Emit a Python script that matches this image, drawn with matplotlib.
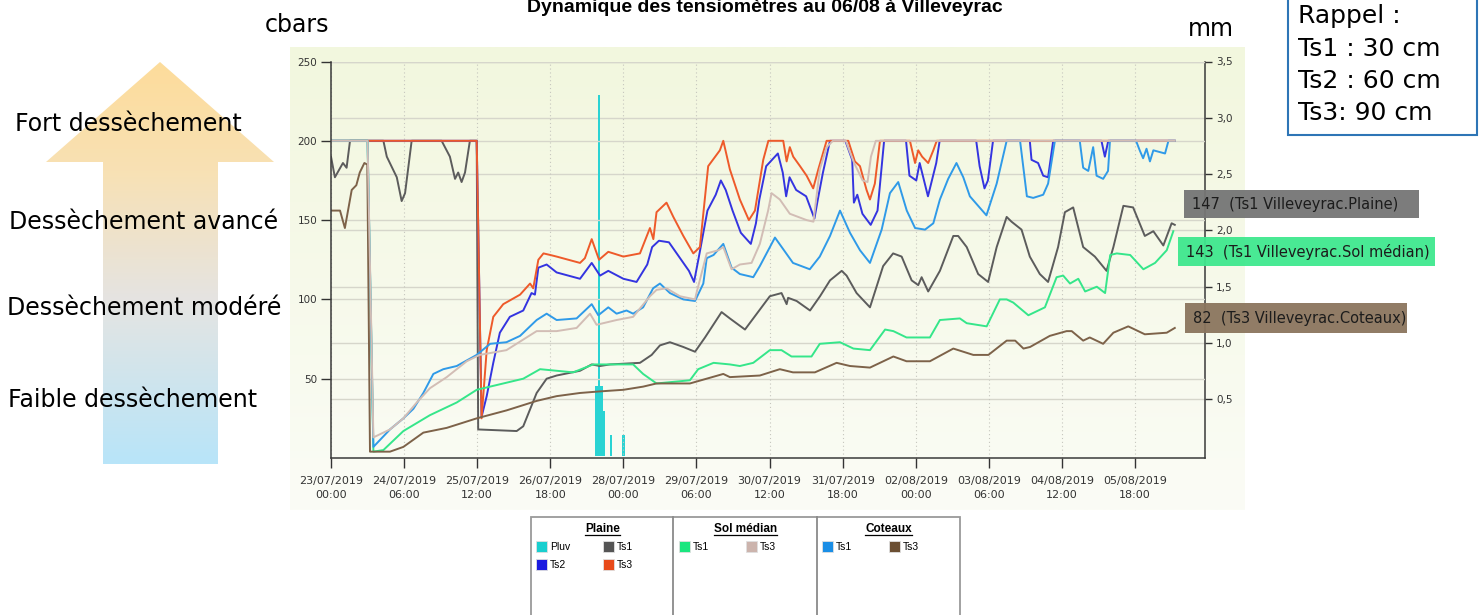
import numpy as np
import pandas as pd
import matplotlib
matplotlib.use("Agg")
import matplotlib.pyplot as plt
from matplotlib.patches import Rectangle, Polygon

W, H = 1484, 615
START = pd.Timestamp("2019-07-23 00:00")
X_END_HOURS = 358.7

# ---------------- data : (hours since 23/07/2019 00:00, cbars) ----------------
plaine_ts1 = [(0, 190), (1.6, 177), (4.9, 186), (6.4, 183), (7.8, 200), (21.5, 200), (22.9, 190),
              (27.0, 177), (29.0, 162), (30.4, 167), (33.1, 200), (45.4, 200), (48.8, 190),
              (50.9, 176), (52.2, 180), (53.6, 174), (55.0, 180), (57.0, 200), (59.8, 200),
              (60.4, 18), (76.2, 17), (78.9, 20), (84.4, 41), (88.5, 50), (92.6, 52), (102.2, 55),
              (107.0, 59), (110.4, 58), (114.5, 59), (126.8, 60), (131.6, 65), (135.0, 71),
              (139.1, 73), (144.6, 70), (149.4, 67), (153.5, 76), (160.3, 92), (163.7, 88),
              (169.9, 81), (180.1, 102), (184.9, 104), (187.0, 97), (187.6, 101), (191.1, 99),
              (196.6, 93), (200.7, 102), (204.8, 112), (209.6, 118), (211.6, 115), (215.7, 104),
              (221.2, 95), (226.6, 121), (230.7, 129), (234.2, 127), (238.3, 112), (241.0, 109),
              (242.4, 114), (245.1, 105), (249.9, 118), (255.4, 140), (257.4, 140), (260.9, 133),
              (265.6, 116), (269.7, 111), (273.2, 133), (277.3, 152), (279.3, 149), (283.4, 144),
              (286.8, 127), (290.9, 116), (294.3, 111), (298.4, 133), (301.2, 155), (304.6, 158),
              (308.7, 133), (313.5, 127), (318.3, 118), (321.1, 133), (325.2, 159), (329.2, 158),
              (334.0, 140), (337.5, 143), (341.6, 134), (345.0, 148), (346.3, 147)]

plaine_ts2 = [(0, 200), (59.8, 200), (61.8, 26), (63.9, 39), (66.6, 60), (69.3, 79), (73.4, 89),
              (78.9, 93), (82.3, 104), (83.7, 103), (85.1, 120), (88.5, 122), (92.6, 117),
              (102.2, 113), (107.0, 123), (110.4, 115), (113.8, 118), (120.0, 113), (125.4, 111),
              (129.8, 122), (131.8, 133), (134.6, 137), (138.7, 136), (142.8, 127), (146.9, 118),
              (149.0, 111), (151.0, 127), (154.5, 156), (157.9, 166), (160.0, 175), (162.0, 169),
              (164.8, 156), (168.2, 142), (172.3, 135), (174.4, 148), (175.8, 163), (178.6, 184),
              (183.4, 192), (185.4, 180), (186.8, 165), (188.2, 177), (190.9, 169), (195.0, 165),
              (198.4, 151), (199.8, 163), (201.9, 180), (204.8, 200), (211.1, 200), (213.9, 188),
              (214.6, 161), (216.0, 166), (218.1, 154), (221.5, 147), (224.3, 156), (227.0, 200),
              (236.0, 200), (237.4, 178), (240.2, 175), (241.6, 186), (245.0, 165), (248.4, 186),
              (249.8, 200), (264.8, 200), (266.2, 184), (268.2, 170), (269.6, 175), (271.7, 200),
              (286.8, 200), (287.5, 188), (290.2, 186), (292.3, 178), (294.3, 177), (296.4, 200),
              (316.2, 200), (317.6, 190), (319.0, 200), (346.3, 200)]

plaine_ts3 = [(0, 200), (59.8, 200), (61.8, 25), (63.9, 68), (66.6, 89), (70.7, 97), (77.6, 103),
              (81.7, 110), (83.0, 107), (85.1, 125), (87.2, 129), (90.0, 128), (92.6, 127),
              (102.2, 123), (104.2, 126), (107.0, 138), (110.0, 125), (113.8, 130), (120.0, 127),
              (126.8, 129), (130.9, 145), (132.3, 138), (133.6, 155), (137.7, 161), (140.5, 152),
              (144.6, 140), (148.7, 129), (151.4, 133), (154.8, 184), (159.6, 194), (161.0, 200),
              (163.7, 182), (167.8, 163), (171.5, 150), (174.0, 156), (177.4, 188), (179.5, 200),
              (185.6, 200), (187.0, 187), (188.3, 196), (189.7, 190), (192.5, 184), (195.2, 178),
              (197.9, 170), (200.0, 182), (203.4, 200), (212.3, 200), (215.0, 187), (217.1, 184),
              (219.8, 169), (221.2, 163), (223.2, 173), (225.3, 200), (237.6, 200), (239.7, 186),
              (241.0, 194), (242.6, 190), (245.1, 186), (247.2, 194), (248.6, 200), (346.3, 200)]

median_ts1 = [(0, 200), (15.0, 200), (17.4, 4), (21.5, 5), (29.7, 17), (40.6, 27), (51.6, 35),
              (59.8, 43), (68.0, 46), (78.9, 50), (85.8, 56), (99.4, 54), (107.6, 59), (124.0, 59),
              (128.1, 53), (133.6, 47), (147.3, 49), (150.7, 56), (157.0, 60), (163.7, 59),
              (167.8, 58), (173.3, 60), (180.1, 68), (184.9, 68), (189.0, 64), (197.2, 64),
              (200.6, 72), (208.9, 73), (214.4, 69), (221.2, 68), (227.4, 81), (230.8, 80),
              (236.2, 76), (245.8, 76), (249.9, 87), (258.1, 88), (260.9, 85), (269.1, 83),
              (274.5, 100), (277.3, 100), (280.0, 98), (286.2, 90), (293.0, 95), (297.8, 114),
              (300.5, 115), (303.3, 110), (306.7, 113), (309.5, 105), (314.3, 108), (317.7, 104),
              (319.8, 128), (322.5, 129), (328.0, 128), (333.4, 119), (338.2, 123), (343.0, 131),
              (345.7, 143)]

median_ts3 = [(0, 200), (15.0, 200), (17.4, 13), (24.2, 18), (29.7, 25), (35.2, 35), (40.6, 44),
              (47.5, 51), (55.7, 61), (61.0, 65), (72.0, 68), (84.4, 80), (92.6, 80), (100.8, 82),
              (106.3, 91), (109.0, 84), (117.2, 87), (124.0, 89), (130.9, 102), (133.6, 106),
              (137.7, 107), (143.2, 102), (149.4, 100), (150.0, 104), (154.2, 129), (159.0, 131),
              (161.0, 133), (164.4, 119), (167.8, 122), (172.6, 123), (176.0, 135), (179.4, 156),
              (180.8, 167), (184.2, 163), (188.3, 154), (195.2, 150), (198.0, 149), (200.6, 182),
              (203.4, 196), (206.0, 200), (211.3, 200), (212.7, 194), (214.7, 186), (218.2, 175),
              (220.2, 174), (221.6, 190), (223.6, 200), (346.3, 200)]

coteaux_ts1 = [(0, 200), (15.0, 200), (17.4, 7), (24.2, 18), (29.7, 25), (33.8, 31), (37.9, 41),
               (42.0, 53), (46.1, 56), (51.6, 58), (59.8, 65), (65.3, 72), (72.0, 73), (77.6, 77),
               (84.4, 87), (88.5, 91), (92.6, 87), (100.8, 88), (107.0, 97), (109.7, 90),
               (113.8, 95), (117.2, 91), (121.3, 93), (124.0, 91), (128.1, 95), (132.2, 107),
               (135.0, 110), (139.1, 104), (144.6, 100), (149.4, 99), (152.8, 110), (154.2, 126),
               (157.0, 128), (161.0, 135), (164.4, 120), (167.8, 116), (173.3, 114), (176.0, 121),
               (182.2, 139), (189.6, 123), (196.5, 119), (200.6, 127), (204.8, 140), (208.9, 156),
               (213.0, 142), (217.1, 131), (221.2, 123), (226.0, 144), (229.4, 167), (232.8, 174),
               (236.3, 156), (239.7, 145), (243.8, 144), (247.2, 148), (249.9, 163), (253.3, 176),
               (256.7, 186), (259.5, 177), (262.2, 165), (265.6, 159), (269.0, 153), (273.2, 173),
               (277.3, 200), (282.8, 200), (285.6, 165), (288.2, 164), (292.3, 166), (294.3, 173),
               (297.1, 200), (307.3, 200), (308.7, 183), (310.8, 181), (312.8, 196), (314.2, 178),
               (316.9, 176), (318.9, 181), (319.7, 200), (330.4, 200), (331.9, 194), (333.3, 189),
               (334.7, 195), (336.1, 187), (337.5, 194), (342.3, 192), (343.7, 200), (346.3, 200)]

coteaux_ts3 = [(0, 156), (3.7, 156), (5.7, 145), (8.5, 169), (10.4, 172), (11.8, 180), (13.7, 186),
               (14.9, 185), (16.0, 4), (24.2, 4), (29.7, 7), (37.9, 16), (47.5, 19), (59.8, 25),
               (72.0, 30), (84.4, 36), (92.6, 39), (102.2, 41), (110.4, 42), (120.0, 43),
               (128.1, 45), (133.6, 47), (147.3, 47), (161.0, 53), (163.7, 51), (176.0, 52),
               (184.2, 56), (189.6, 54), (198.6, 54), (207.5, 60), (213.0, 58), (221.2, 57),
               (230.8, 64), (236.2, 61), (245.8, 61), (255.4, 69), (263.6, 65), (269.8, 65),
               (277.3, 74), (280.8, 74), (284.2, 69), (286.9, 70), (295.0, 77), (301.9, 80),
               (304.0, 80), (308.7, 74), (311.4, 76), (316.9, 72), (321.1, 79), (327.2, 83),
               (334.0, 78), (343.0, 79), (346.3, 82)]

pluv_hours = [109, 110, 111, 112, 115, 120]
pluv_mm = [0.62, 3.2, 0.62, 0.4, 0.18, 0.18]

x_tick_times = pd.date_range("2019-07-23 00:00", periods=12, freq="30h")
x_tick_labels = [t.strftime("%d/%m/%Y\n%H:%M") for t in x_tick_times]
left_ticks = [50, 100, 150, 200, 250]
right_ticks = [0.5, 1.0, 1.5, 2.0, 2.5, 3.0, 3.5]
right_tick_labels = ["0,5", "1,0", "1,5", "2,0", "2,5", "3,0", "3,5"]

# drawing order (last on top)
series = [
    (plaine_ts1, "#5c5c5c"),
    (plaine_ts2, "#3434e0"),
    (plaine_ts3, "#ee5a2a"),
    (median_ts1, "#35e68a"),
    (coteaux_ts1, "#2f9ae8"),
    (coteaux_ts3, "#7d6249"),
    (median_ts3, "#d2bdb5"),
]


def to_time(hours):
    return (START + pd.to_timedelta(np.asarray(hours, float), unit="h")).to_numpy()


fig = plt.figure(figsize=(W / 100, H / 100), dpi=100)
fig.patch.set_facecolor("white")

# ---------------- background / decorations (pixel coordinates) ----------------
bg = fig.add_axes([0, 0, 1, 1], zorder=0)
bg.set_xlim(0, W)
bg.set_ylim(H, 0)
bg.axis("off")

grad = np.linspace(0, 1, 200)[:, None]
top_c = np.array([242, 247, 222]) / 255
bot_c = np.array([251, 252, 246]) / 255
img = (top_c[None, None, :] * (1 - grad[:, :, None]) + bot_c[None, None, :] * grad[:, :, None])
bg.imshow(img, extent=(290, 1245, 510, 47), aspect="auto", zorder=0, interpolation="bilinear")

# gradient arrow
arrow_pts = [(160, 62), (274, 162), (218, 162), (218, 464), (103, 464), (103, 162), (46, 162)]
arrow = Polygon(arrow_pts, closed=True, facecolor="none", edgecolor="none")
bg.add_patch(arrow)
ys = np.linspace(62, 464, 300)
stops_y = [62, 170, 300, 464]
stops_c = np.array([[253, 220, 155], [248, 225, 180], [229, 228, 226], [184, 229, 249]]) / 255
acol = np.stack([np.interp(ys, stops_y, stops_c[:, k]) for k in range(3)], axis=1)[:, None, :]
aim = bg.imshow(acol, extent=(46, 274, 464, 62), aspect="auto", zorder=1, interpolation="bilinear")
aim.set_clip_path(arrow)

txt_kw = dict(family="DejaVu Sans", fontsize=17, color="black", va="center", ha="left", zorder=3)
bg.text(15, 124, "Fort dessèchement", **txt_kw)
bg.text(9, 222, "Dessèchement avancé", **txt_kw)
bg.text(7, 308, "Dessèchement modéré", **txt_kw)
bg.text(8, 400, "Faible dessèchement", **txt_kw)
bg.text(297, 25, "cbars", family="DejaVu Sans", fontsize=17, ha="center", va="center")
bg.text(1211, 29, "mm", family="DejaVu Sans", fontsize=17, ha="center", va="center")
bg.text(765, 8, "Dynamique des tensiomètres au 06/08 à Villeveyrac", family="Liberation Sans",
        fontweight="bold", fontsize=14, ha="center", va="center")

# ---------------- main chart ----------------
ax_l, ax_r, ax_t, ax_b = 331, 1205, 61.5, 458
ax = fig.add_axes([ax_l / W, 1 - ax_b / H, (ax_r - ax_l) / W, (ax_b - ax_t) / H], zorder=3)
ax2 = ax.twinx()
ax2.set_zorder(2)
ax.patch.set_visible(False)
ax2.patch.set_visible(False)

ax2.bar(to_time(pluv_hours), pluv_mm, width=1.0 / 24, color="#2ad3d3", edgecolor="none", zorder=2)

for data, col in series:
    hh = [p[0] for p in data]
    vv = [p[1] for p in data]
    ax.plot(to_time(hh), vv, color=col, lw=1.4, solid_joinstyle="round", zorder=2)

ax.set_xlim(START.to_datetime64(), (START + pd.Timedelta(hours=X_END_HOURS)).to_datetime64())
ax.set_ylim(0, 250)
ax2.set_ylim(-0.021, 3.5)

ax.set_xticks(x_tick_times.to_numpy())
ax.set_xticklabels(x_tick_labels, fontsize=8, linespacing=1.45, color="#333333", family="DejaVu Sans")
ax.set_yticks(left_ticks)
ax.set_yticklabels([str(v) for v in left_ticks], fontsize=7.5, color="#333333")
ax2.set_yticks(right_ticks)
ax2.set_yticklabels(right_tick_labels, fontsize=7.5, color="#333333")

ax.tick_params(axis="x", direction="out", length=7, width=1, color="#333333", pad=6)
ax.tick_params(axis="y", direction="out", length=7, width=1, color="#333333", pad=3)
ax2.tick_params(axis="y", direction="out", length=5, width=1, color="#333333", pad=3)

ax.grid(axis="x", linestyle=(0, (1, 2.5)), color="#c6c6be", lw=0.8)
ax.grid(axis="y", color="#d6d6cb", lw=1.0)
ax2.grid(axis="y", color="#d6d6cb", lw=1.0)
ax.set_axisbelow(True)

for s in ["top", "right"]:
    ax.spines[s].set_visible(False)
for s in ["top", "left", "bottom"]:
    ax2.spines[s].set_visible(False)
for sp in [ax.spines["left"], ax.spines["bottom"], ax2.spines["right"]]:
    sp.set_color("#3a3a3a")
    sp.set_linewidth(1.1)

# ---------------- overlay: value labels, legend, reminder box ----------------
ov = fig.add_axes([0, 0, 1, 1], zorder=10)
ov.set_xlim(0, W)
ov.set_ylim(H, 0)
ov.axis("off")
ov.patch.set_visible(False)

value_labels = [
    ("147  (Ts1 Villeveyrac.Plaine)", 1184, 190, 235, 28, "#757575"),
    ("143  (Ts1 Villeveyrac.Sol médian)", 1178, 237, 257, 29, "#3fe88e"),
    ("82  (Ts3 Villeveyrac.Coteaux)", 1185, 303, 222, 30, "#8b755e"),
]
for txt, x0, y0, w, h, col in value_labels:
    ov.add_patch(Rectangle((x0, y0), w, h, facecolor=col, edgecolor="none", alpha=0.95))
    ov.text(x0 + 8, y0 + h / 2 + 1, txt, family="DejaVu Sans", fontsize=10.5, color="#1c1c1c",
            ha="left", va="center")

# reminder box
ov.add_patch(Rectangle((1287.5, -5), 189.5, 140, facecolor="white", edgecolor="#2e75b6", lw=1.5))
for i, line in enumerate(["Rappel :", "Ts1 : 30 cm", "Ts2 : 60 cm", "Ts3: 90 cm"]):
    ov.text(1298, 23 + 32.5 * i, line, family="DejaVu Sans", fontsize=18, ha="left", va="baseline")

# legend
ov.add_patch(Rectangle((530.7, 516.7), 429.3, 120, facecolor="white", edgecolor="#9a9a9a", lw=1.3))
for xs in [673.3, 816.7]:
    ov.plot([xs, xs], [516.7, H], color="#8a8a8a", lw=1.3)

legend_groups = [("Plaine", 602.5), ("Sol médian", 745.5), ("Coteaux", 888.5)]
legend_items = [
    ("Pluv", "#19cfcf", 536, 541), ("Ts1", "#555555", 602.5, 541),
    ("Ts2", "#1a1ae0", 536, 558.5), ("Ts3", "#e84a1a", 602.5, 558.5),
    ("Ts1", "#1ae67f", 679, 541), ("Ts3", "#ccb4ad", 746, 541),
    ("Ts1", "#1a8ee6", 822, 541), ("Ts3", "#6b4f33", 889, 541),
]
renderer = fig.canvas.get_renderer()
for name, cx in legend_groups:
    t = ov.text(cx, 528.5, name, family="Liberation Sans", fontweight="bold", fontsize=8.5,
                ha="center", va="center")
    bb = t.get_window_extent(renderer)
    ov.plot([bb.x0, bb.x1], [534.5, 534.5], color="black", lw=0.9)
for lab, col, sx, sy in legend_items:
    ov.add_patch(Rectangle((sx, sy), 11, 11, facecolor=col, edgecolor="#e0e0e0", lw=0.6))
    ov.text(sx + 14, sy + 6, lab, family="Liberation Sans", fontsize=7.5, ha="left", va="center")

fig.savefig("out.png", dpi=100, facecolor="white")
